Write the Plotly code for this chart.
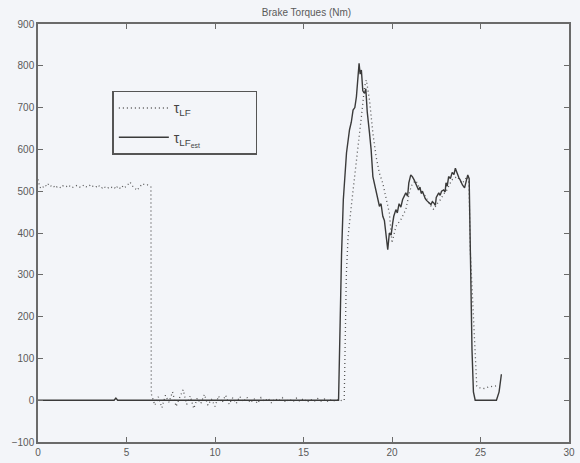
import plotly.graph_objects as go

# ---- data: measured brake torque (dotted) ----
t_meas = [0.0, 0.1, 0.2, 0.3, 0.4, 0.5, 0.6, 0.7, 0.8, 0.9, 1.0, 1.1, 1.2, 1.3, 1.4, 1.5,
          1.6, 1.7, 1.8, 1.9, 2.0, 2.1, 2.2, 2.3, 2.4, 2.5, 2.6, 2.7, 2.8, 2.9, 3.0, 3.1,
          3.2, 3.3, 3.4, 3.5, 3.6, 3.7, 3.8, 3.9, 4.0, 4.1, 4.2, 4.3, 4.4, 4.5, 4.6, 4.7,
          4.8, 4.9, 5.0, 5.1, 5.2, 5.3, 5.4, 5.5, 5.6, 5.7, 5.8, 5.9, 6.0, 6.1, 6.2, 6.3,
          6.38, 6.4, 6.6, 6.8, 7.0, 7.2, 7.4, 7.6, 7.8, 8.0, 8.2, 8.4, 8.6, 8.8, 9.0, 9.2,
          9.4, 9.6, 9.8, 10.0, 10.2, 10.4, 10.6, 10.8, 11.0, 11.2, 11.4, 11.6, 11.8, 12.0,
          12.2, 12.4, 12.6, 12.8, 13.0, 13.2, 13.4, 13.6, 13.8, 14.0, 14.2, 14.4, 14.6,
          14.8, 15.0, 15.2, 15.4, 15.6, 15.8, 16.0, 16.2, 16.4, 16.6, 16.8, 17.0, 17.2,
          17.3, 17.42, 17.52, 17.7, 17.9, 18.08, 18.27, 18.45, 18.55, 18.73, 18.92, 19.1,
          19.29, 19.48, 19.66, 19.85, 20.0, 20.22, 20.5, 20.78, 21.0, 21.16, 21.35, 21.52,
          21.7, 21.9, 22.1, 22.36, 22.55, 22.74, 22.9, 23.1, 23.38, 23.67, 23.95, 24.1,
          24.23, 24.35, 24.42, 24.6, 24.79, 24.9, 25.2, 25.5, 25.8, 26.05]
tau_lf = [528, 510, 506, 512, 515, 511, 518, 514, 509, 511, 507, 512, 510, 508, 513, 510,
          511, 515, 512, 508, 510, 513, 514, 511, 509, 512, 515, 511, 510, 513, 516, 512,
          509, 511, 515, 510, 507, 512, 510, 506, 509, 511, 508, 510, 505, 512, 508, 506,
          513, 509, 512, 518, 522, 514, 510, 506, 502, 508, 512, 518, 516, 514, 515, 512,
          510, 15, -12, 8, -18, 12, -5, 20, -15, 6, 25, -10, 10, -20, 5, -8,
          14, -12, 3, -15, 10, -6, 12, -10, 6, -8, 9, -4, 7, -6,
          4, -8, 6, -3, 5, -7, 4, -2, 6, -5, 3, -4, 5,
          -3, 4, -5, 2, -3, 4, -2, 3, -4, 2, -3, 2, -2,
          0, 300, 392, 464, 535, 599, 678, 750, 766, 718, 639, 583,
          543, 519, 488, 448, 376, 416, 432, 456, 500, 519, 525, 511,
          495, 488, 470, 456, 470, 480, 492, 503, 527, 535, 519, 525,
          535, 519, 360, 200, 34, 30, 28, 32, 33, 35]

# ---- data: estimated brake torque (solid) ----
t_est = [0.0, 4.3, 4.4, 4.5, 16.98, 17.05, 17.15, 17.25, 17.35, 17.43, 17.6, 17.7, 17.8,
         17.9, 17.99, 18.05, 18.14, 18.2, 18.27, 18.35, 18.45, 18.52, 18.6, 18.73, 18.82,
         18.92, 19.0, 19.1, 19.2, 19.29, 19.38, 19.48, 19.57, 19.66, 19.76, 19.85, 19.95,
         20.04, 20.1, 20.22, 20.3, 20.4, 20.5, 20.6, 20.7, 20.78, 20.88, 20.95, 21.06,
         21.15, 21.25, 21.32, 21.4, 21.5, 21.58, 21.65, 21.72, 21.8, 21.88, 21.95, 22.08,
         22.2, 22.28, 22.36, 22.45, 22.5, 22.64, 22.72, 22.8, 22.92, 23.0, 23.05, 23.12,
         23.2, 23.3, 23.4, 23.5, 23.58, 23.64, 23.7, 23.78, 23.85, 23.92, 23.98, 24.1,
         24.2, 24.28, 24.36, 24.42, 24.52, 24.6, 24.7, 25.9, 26.05, 26.18]
tau_lf_est = [0, 0, 5, 0, 0, 150, 350, 480, 560, 592, 647, 665, 694,
              700, 726, 760, 806, 780, 790, 740, 734, 745, 690, 639, 600,
              535, 520, 503, 480, 464, 470, 440, 430, 400, 360, 400, 395,
              424, 440, 456, 448, 470, 462, 480, 490, 496, 488, 520, 539,
              535, 527, 520, 515, 503, 510, 495, 500, 488, 482, 478, 472,
              468, 475, 472, 466, 485, 496, 490, 500, 503, 498, 520, 512,
              535, 530, 545, 540, 555, 548, 540, 532, 527, 520, 515, 508,
              525, 539, 530, 360, 120, 20, 0, 0, 20, 62]

x_ticks = [0, 5, 10, 15, 20, 25, 30]
y_ticks = [-100, 0, 100, 200, 300, 400, 500, 600, 700, 800, 900]

BG = "#f3f5f9"
AX = "#6a6a6a"
TXT = "#5a5a5a"
PAD = "\u00a0" * 13

fig = go.Figure()
fig.add_trace(go.Scatter(x=t_meas, y=tau_lf, mode="lines", name="τ<sub>LF</sub>" + PAD,
                         legendgroup="a",
                         line=dict(color="#555555", width=1.3, dash="1px,3px")))
fig.add_trace(go.Scatter(x=t_est, y=tau_lf_est, mode="lines",
                         name="τ<sub>LF<sub>est</sub></sub>" + PAD, legendgroup="b",
                         line=dict(color="#3a3a3a", width=1.4)))

fig.update_layout(
    width=580, height=463,
    margin=dict(l=38, r=5, t=24, b=20),
    paper_bgcolor=BG, plot_bgcolor=BG,
    font=dict(family="Liberation Sans, Arial, sans-serif", size=10, color=TXT),
    title=dict(text="Brake Torques (Nm)", x=(38 + 575) / 2 / 580, xanchor="center",
               y=1 - 12 / 463, yanchor="middle", font=dict(size=10, color=TXT)),
    showlegend=True,
    legend=dict(x=0.14, y=0.84, xanchor="left", yanchor="top",
                bgcolor=BG, bordercolor="#555555", borderwidth=1.5,
                font=dict(size=14, color="#444444"), itemwidth=50,
                traceorder="grouped", tracegroupgap=8),
    xaxis=dict(range=[0, 30], tickvals=x_ticks, ticks="inside", ticklen=5,
               tickcolor=AX, showline=True, linecolor=AX, linewidth=1.5,
               mirror="ticks", showgrid=False, zeroline=False,
               tickfont=dict(size=10, color=TXT)),
    yaxis=dict(range=[-100, 900], tickvals=y_ticks, ticks="inside", ticklen=5,
               tickcolor=AX, showline=True, linecolor=AX, linewidth=1.5,
               mirror="ticks", showgrid=False, zeroline=False,
               tickfont=dict(size=10, color=TXT)),
)

fig.write_html("out.html")
